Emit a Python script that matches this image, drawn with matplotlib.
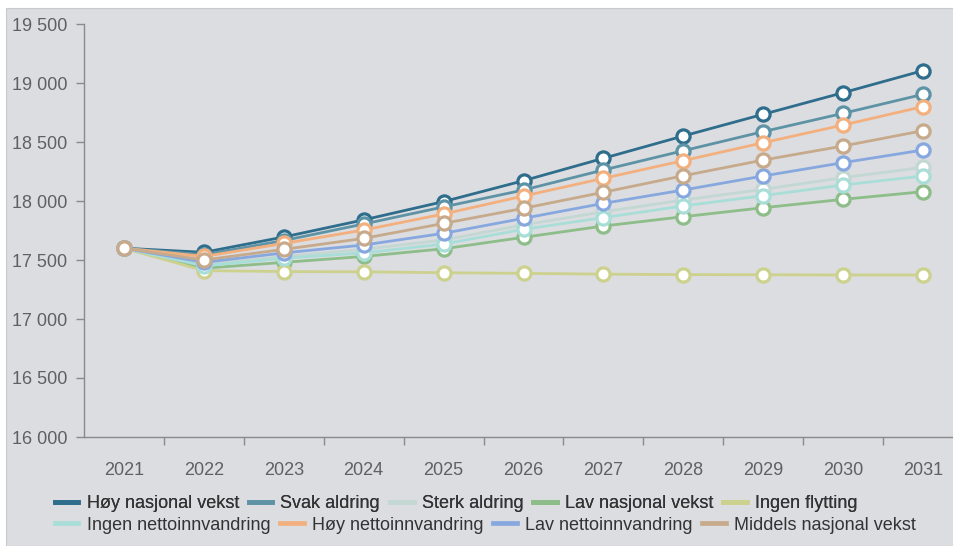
import matplotlib.pyplot as plt
from matplotlib.lines import Line2D
from matplotlib.patches import Rectangle
from matplotlib.ticker import FuncFormatter

plt.rcParams['font.family'] = ['Liberation Sans', 'DejaVu Sans']

years = ['2021', '2022', '2023', '2024', '2025', '2026', '2027', '2028', '2029', '2030', '2031']

hoy_nasjonal = [17600, 17565, 17695, 17840, 17995, 18172, 18362, 18551, 18735, 18918, 19105]
svak_aldring = [17600, 17545, 17665, 17805, 17950, 18093, 18263, 18426, 18588, 18743, 18904]
sterk_aldring = [17600, 17460, 17530, 17590, 17670, 17797, 17909, 18008, 18099, 18198, 18285]
lav_nasjonal = [17600, 17430, 17480, 17530, 17595, 17692, 17788, 17867, 17943, 18014, 18079]
ingen_flytting = [17600, 17410, 17402, 17400, 17392, 17387, 17380, 17376, 17375, 17373, 17373]
ingen_netto = [17600, 17450, 17515, 17560, 17635, 17760, 17859, 17958, 18045, 18136, 18212]
hoy_netto = [17600, 17530, 17640, 17754, 17890, 18042, 18192, 18342, 18494, 18644, 18800]
lav_netto = [17600, 17480, 17560, 17627, 17726, 17853, 17980, 18093, 18212, 18325, 18432]
middels = [17600, 17500, 17590, 17683, 17810, 17938, 18074, 18214, 18347, 18466, 18596]

series = [
    ("Høy nasjonal vekst", hoy_nasjonal, "#2f6d8c"),
    ("Svak aldring", svak_aldring, "#5e93a6"),
    ("Sterk aldring", sterk_aldring, "#c3d7d3"),
    ("Lav nasjonal vekst", lav_nasjonal, "#8dbd89"),
    ("Ingen flytting", ingen_flytting, "#cdd18e"),
    ("Ingen nettoinnvandring", ingen_netto, "#a9ddd7"),
    ("Høy nettoinnvandring", hoy_netto, "#f3b07e"),
    ("Lav nettoinnvandring", lav_netto, "#87a8df"),
    ("Middels nasjonal vekst", middels, "#c6aa8b"),
]

bg = "#dcdde1"
fig = plt.figure(figsize=(9.54, 5.46), dpi=100)
fig.patch.set_facecolor("white")
fig.patches.append(Rectangle((6 / 954, 0), 1, 1 - 8 / 546, transform=fig.transFigure,
                             facecolor=bg, edgecolor="#c8c9cd", lw=0.8, zorder=-5))

ax = fig.add_axes([84 / 954, 1 - 437 / 546, 879 / 954, 413 / 546])
ax.set_zorder(2)
ax.patch.set_alpha(0)

x = list(range(len(years)))
for name, vals, col in series:
    ax.plot(x, vals, color=col, lw=2.0, marker='o', markersize=9.5,
            markerfacecolor='white', markeredgecolor=col, markeredgewidth=2.3,
            label=name, clip_on=False)

ax.set_xlim(-0.5, len(years) - 0.5)
ax.set_ylim(16000, 19500)
ax.set_yticks(range(16000, 19501, 500))
ax.yaxis.set_major_formatter(FuncFormatter(lambda v, p: f"{int(v):,}".replace(",", " ")))
ax.set_xticks(x)
ax.set_xticklabels(years)
ax.set_xticks([i + 0.5 for i in x[:-1]], minor=True)

for s in ['top', 'right']:
    ax.spines[s].set_visible(False)
for s in ['left', 'bottom']:
    ax.spines[s].set_color("#8a8a8a")
    ax.spines[s].set_linewidth(1.0)

ax.tick_params(axis='y', length=6, width=1, color="#8a8a8a", pad=6,
               labelsize=13, labelcolor="#606060")
ax.tick_params(axis='x', which='major', length=0, pad=18,
               labelsize=13, labelcolor="#606060")
ax.tick_params(axis='x', which='minor', length=6, width=1, color="#8a8a8a")

handles = [Line2D([], [], color=c, lw=3.4) for _, _, c in series]
labels = [n for n, _, _ in series]
kw = dict(frameon=False, fontsize=13, labelcolor="#333333", handlelength=1.3,
          handletextpad=0.45, columnspacing=0.55, borderpad=0, borderaxespad=0,
          loc='center left')
leg1 = fig.legend(handles[:5], labels[:5], ncol=5, bbox_to_anchor=(55 / 954, 1 - 504 / 546), **kw)
fig.add_artist(leg1)
fig.legend(handles[5:], labels[5:], ncol=4, bbox_to_anchor=(55 / 954, 1 - 525 / 546), **kw)

fig.savefig("out.png", dpi=100, facecolor=fig.get_facecolor())
